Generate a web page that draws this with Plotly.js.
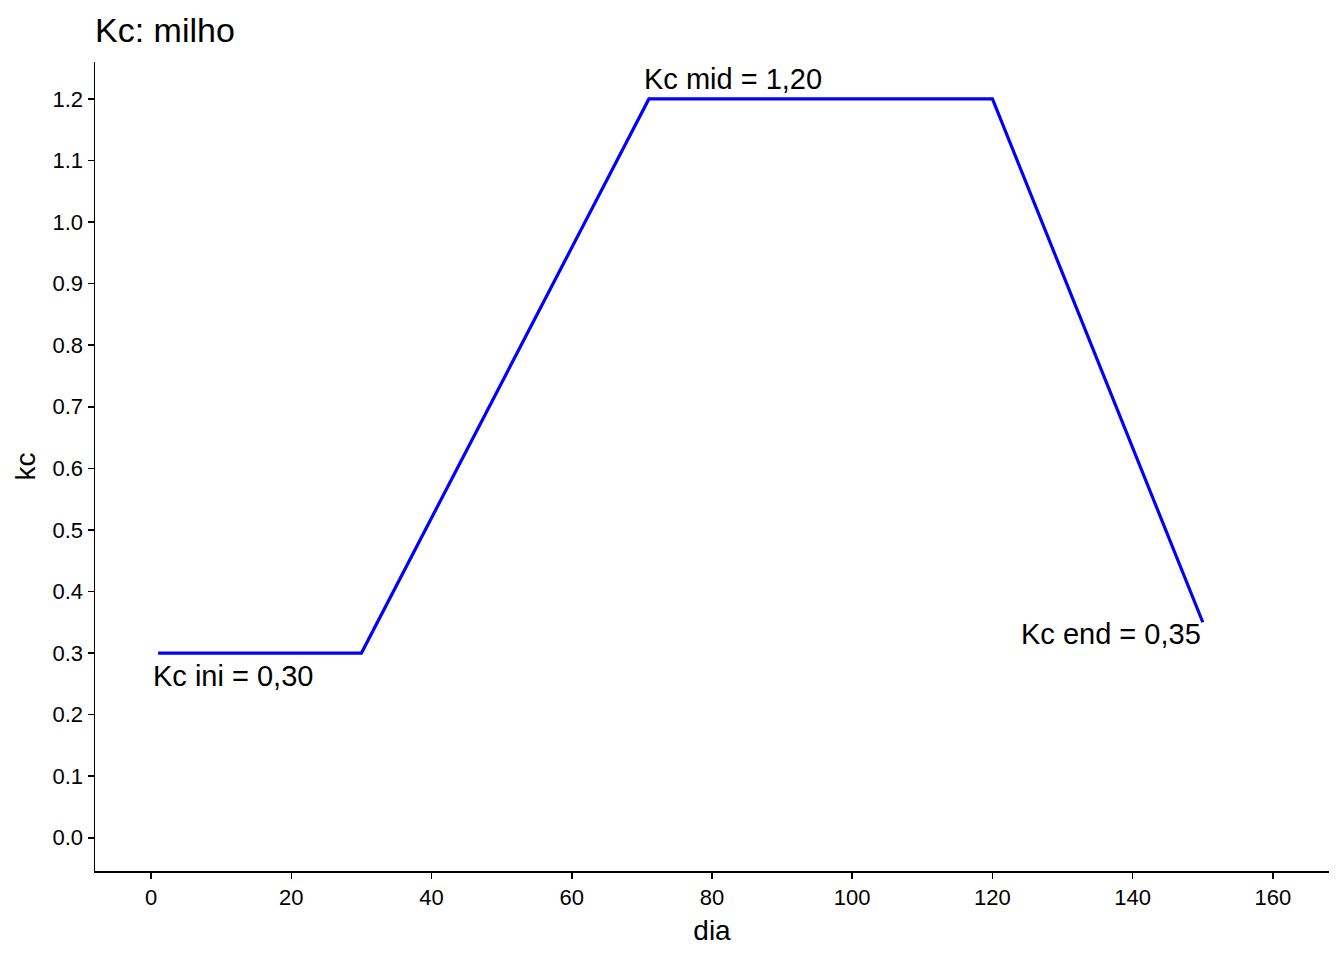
<!DOCTYPE html>
<html>
<head>
<meta charset="utf-8">
<script src="https://cdn.plot.ly/plotly-3.0.1.min.js"></script>
<style>html,body{margin:0;padding:0;background:#fff;}#chart{width:1344px;height:960px;}</style>
</head>
<body>
<div id="chart"></div>
<script>
var dia = [1, 30, 71, 120, 150];
var kc = [0.30, 0.30, 1.20, 1.20, 0.35];
var labelText = ["Kc ini = 0,30", "Kc mid = 1,20", "Kc end = 0,35"];
var labelX = [0, 70, 150];
var labelY = [0.263, 1.232, 0.331];
var labelAnchor = ["left", "left", "right"];
var xTicks = [0, 20, 40, 60, 80, 100, 120, 140, 160];
var yTicks = [0.0, 0.1, 0.2, 0.3, 0.4, 0.5, 0.6, 0.7, 0.8, 0.9, 1.0, 1.1, 1.2];

var font = "Liberation Sans, Arial, sans-serif";
var annotations = labelText.map(function(t, i){
  return {x: labelX[i], y: labelY[i], xref: "x", yref: "y", text: t, showarrow: false,
    xanchor: labelAnchor[i], yanchor: "middle", font: {family: font, size: 29, color: "#000"}};
});

var trace = {x: dia, y: kc, type: "scatter", mode: "lines",
  line: {color: "#0000ff", width: 3.2}, hoverinfo: "skip"};

var layout = {
  width: 1344, height: 960,
  paper_bgcolor: "#fff", plot_bgcolor: "#fff",
  margin: {l: 95, r: 15, t: 62, b: 89},
  showlegend: false,
  title: {text: "Kc: milho", x: 95/1344, xanchor: "left", y: 1 - 30/960, yanchor: "middle",
    font: {family: font, size: 34, color: "#000"}},
  xaxis: {range: [-8, 168], tickvals: xTicks, ticktext: xTicks.map(String),
    showgrid: false, zeroline: false, showline: true, linecolor: "#000", linewidth: 1.5,
    ticks: "outside", ticklen: 6, tickwidth: 1.5, tickcolor: "#000",
    tickfont: {family: font, size: 22, color: "#000"},
    title: {text: "dia", font: {family: font, size: 28, color: "#000"}, standoff: 11}},
  yaxis: {range: [-0.054, 1.26], tickvals: yTicks, ticktext: yTicks.map(function(v){return v.toFixed(1);}),
    showgrid: false, zeroline: false, showline: true, linecolor: "#000", linewidth: 1.5,
    ticks: "outside", ticklen: 6, tickwidth: 1.5, tickcolor: "#000",
    tickfont: {family: font, size: 22, color: "#000"},
    title: {text: "kc", font: {family: font, size: 28, color: "#000"}, standoff: 8}},
  annotations: annotations
};

Plotly.newPlot("chart", [trace], layout, {displayModeBar: false, staticPlot: true});
</script>
</body>
</html>
